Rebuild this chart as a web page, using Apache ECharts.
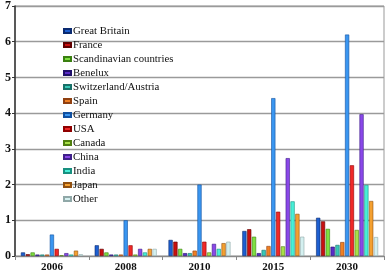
<!DOCTYPE html>
<html><head><meta charset="utf-8">
<script src="https://cdn.jsdelivr.net/npm/echarts@6/dist/echarts.min.js"></script>
<style>html,body{margin:0;padding:0;background:#fff}#c{width:389px;height:275px}</style>
</head><body><div id="c"></div>
<script>
const categories = ['2006','2008','2010','2015','2030'];
const seriesNames = ['Great Britain','France','Scandinavian countries','Benelux','Switzerland/Austria','Spain','Germany','USA','Canada','China','India','Japan','Other'];
const greatBritain = [0.10, 0.30, 0.45, 0.70, 1.07];
const france       = [0.05, 0.20, 0.40, 0.75, 0.97];
const scandinavian = [0.10, 0.10, 0.20, 0.54, 0.76];
const benelux      = [0.04, 0.04, 0.08, 0.08, 0.26];
const switzAustria = [0.04, 0.04, 0.08, 0.17, 0.31];
const spain        = [0.04, 0.04, 0.15, 0.28, 0.39];
const germany      = [0.60, 1.00, 2.00, 4.42, 6.20];
const usa          = [0.20, 0.30, 0.40, 1.24, 2.54];
const canada       = [0.02, 0.04, 0.10, 0.27, 0.73];
const china        = [0.08, 0.20, 0.34, 2.74, 3.97];
const india        = [0.04, 0.10, 0.20, 1.53, 1.99];
const japan        = [0.15, 0.20, 0.36, 1.18, 1.54];
const other        = [0.05, 0.20, 0.40, 0.54, 0.53];
const yTicks = [0,1,2,3,4,5,6,7];

const values = [greatBritain, france, scandinavian, benelux, switzAustria, spain, germany, usa, canada, china, india, japan, other];
const colors = ['#1d5fd0','#c81010','#7ee040','#5a2cc8','#38c8b8','#f08024','#3a96f0','#f02828','#a8e048','#8a48e8','#48f0d8','#f4a030','#d4f0f0'];
const borders = ['#0a2a70','#600000','#3a8010','#20106a','#187068','#904010','#1050a0','#900000','#508010','#40208a','#189080','#905010','#90a8a8'];

const chart = echarts.init(document.getElementById('c'), null, {renderer:'canvas'});
const serif = '"Liberation Serif","DejaVu Serif",serif';
chart.setOption({
  animation: false,
  grid: {left: 15, right: 5, top: 2, bottom: 19, containLabel: false, show: true, borderColor: '#999', borderWidth: 1},
  legend: {
    orient: 'vertical', left: 58, top: 20,
    itemWidth: 7, itemHeight: 4, itemGap: 2,
    textStyle: {fontFamily: serif, fontSize: 10.8, color: '#111', lineHeight: 12, padding: [0,0,0,-3]},
    icon: 'rect',
    data: seriesNames
  },
  xAxis: {
    type: 'category', data: categories,
    axisLine: {lineStyle: {color: '#888'}},
    axisTick: {show: true, lineStyle: {color: '#888'}, length: 4},
    axisLabel: {fontFamily: serif, fontWeight: 'bold', fontSize: 11, color: '#111', margin: 6}
  },
  yAxis: {
    type: 'value', min: 0, max: 7, interval: 1,
    axisLine: {show: true, lineStyle: {color: '#333', width: 1.5}},
    axisTick: {show: true, length: 3, lineStyle: {color: '#333'}},
    splitLine: {lineStyle: {color: '#9a9a9a', width: 1.3}},
    axisLabel: {fontFamily: serif, fontWeight: 'bold', fontSize: 12, color: '#111', margin: 4,
      formatter: v => yTicks.includes(v) ? String(v) : ''}
  },
  series: seriesNames.map((n, i) => ({
    name: n, type: 'bar', data: values[i],
    barGap: '15%', barCategoryGap: '16%',
    itemStyle: {color: colors[i], borderColor: borders[i], borderWidth: 0.6}
  }))
});
</script></body></html>
